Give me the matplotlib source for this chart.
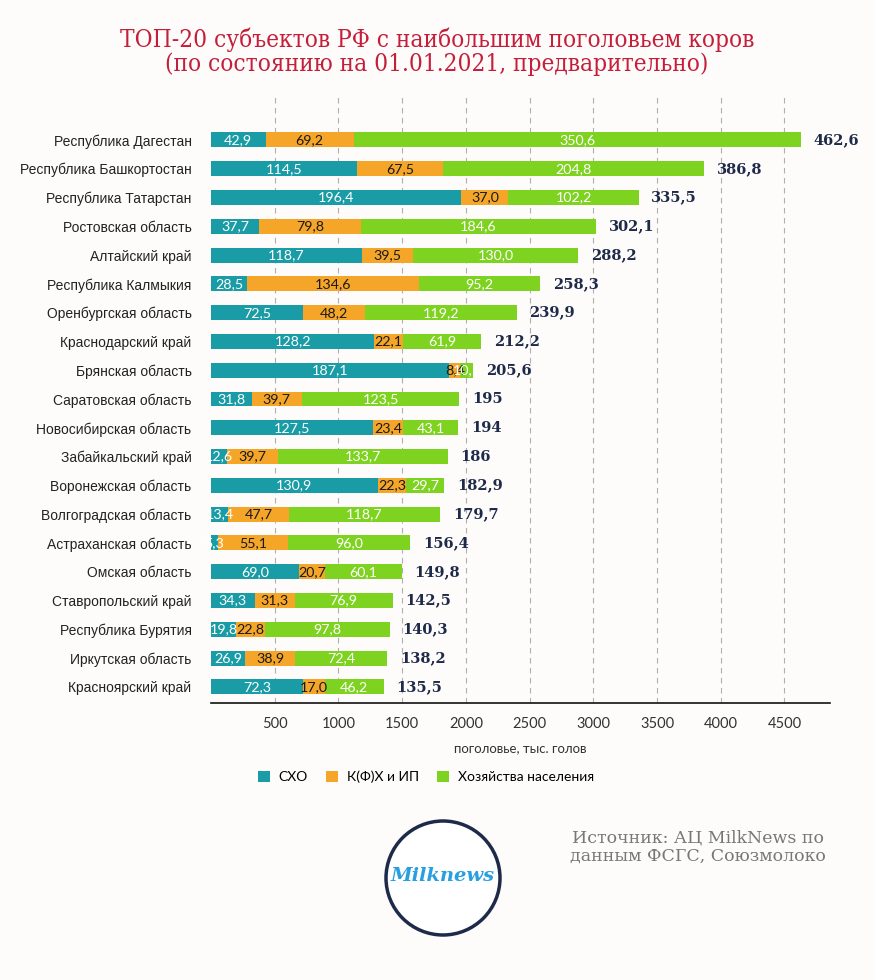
import numpy as np
import matplotlib
matplotlib.use('Agg')
from matplotlib import pyplot as plt
from matplotlib.patches import Patch, Ellipse

### data (thousand heads)
regions = ['Республика Дагестан', 'Республика Башкортостан', 'Республика Татарстан',
           'Ростовская область', 'Алтайский край', 'Республика Калмыкия',
           'Оренбургская область', 'Краснодарский край', 'Брянская область',
           'Саратовская область', 'Новосибирская область', 'Забайкальский край',
           'Воронежская область', 'Волгоградская область', 'Астраханская область',
           'Омская область', 'Ставропольский край', 'Республика Бурятия',
           'Иркутская область', 'Красноярский край']
skho = [42.9, 114.5, 196.4, 37.7, 118.7, 28.5, 72.5, 128.2, 187.1, 31.8,
        127.5, 12.6, 130.9, 13.4, 5.3, 69.0, 34.3, 19.8, 26.9, 72.3]
kfh = [69.2, 67.5, 37.0, 79.8, 39.5, 134.6, 48.2, 22.1, 8.4, 39.7,
       23.4, 39.7, 22.3, 47.7, 55.1, 20.7, 31.3, 22.8, 38.9, 17.0]
hn = [350.6, 204.8, 102.2, 184.6, 130.0, 95.2, 119.2, 61.9, 10.1, 123.5,
      43.1, 133.7, 29.7, 118.7, 96.0, 60.1, 76.9, 97.8, 72.4, 46.2]
totals = [462.6, 386.8, 335.5, 302.1, 288.2, 258.3, 239.9, 212.2, 205.6, 195,
          194, 186, 182.9, 179.7, 156.4, 149.8, 142.5, 140.3, 138.2, 135.5]
series_names = ['СХО', 'К(Ф)Х и ИП', 'Хозяйства населения']
xticks = [500, 1000, 1500, 2000, 2500, 3000, 3500, 4000, 4500]

# the original axis is drawn at 10x the values
SCALE = 10

c_teal = '#1a9ca6'
c_orange = '#f5a629'
c_green = '#7ed321'
bg = '#fdfcfb'

fig = plt.figure(figsize=(8.74, 9.8), dpi=100, facecolor=bg)
ax = fig.add_axes([0.2414, 0.2827, 0.7086, 0.6203], facecolor=bg)

y = np.arange(len(regions))
left = np.zeros(len(regions))
cols = [c_teal, c_orange, c_green]
txtcols = ['white', '#1a1a1a', 'white']
for vals, col, tcol in zip([skho, kfh, hn], cols, txtcols):
    v = np.array(vals) * SCALE
    ax.barh(y, v, left=left, height=0.52, color=col, lw=0, zorder=3)
    for yi, l, w, raw in zip(y, left, v, vals):
        ax.text(l + w / 2, yi, f'{raw:.1f}'.replace('.', ','), ha='center', va='center',
                color=tcol, fontsize=10.3, family='Lato', zorder=4)
    left = left + v

for yi, l, t in zip(y, left, totals):
    ax.text(l + 100, yi, f'{t:g}'.replace('.', ','), ha='left', va='center',
            color='#1f2a4a', fontsize=10.5, fontweight='bold', family='DejaVu Serif')

ax.set_yticks(y)
ax.set_yticklabels(regions, fontsize=10, color='#222222', family='Liberation Sans')
ax.set_ylim(19.56, -1.56)
ax.set_xlim(0, 4860)
ax.set_xticks(xticks)
ax.set_xticklabels([str(t) for t in xticks], fontsize=10.5, color='#333333', family='Lato')
ax.tick_params(axis='both', length=0)
ax.tick_params(axis='x', pad=10)
ax.tick_params(axis='y', pad=14)
ax.grid(axis='x', color='#b0b0b0', ls=(0, (5, 4)), lw=0.8, zorder=0)
for s in ['top', 'right', 'left']:
    ax.spines[s].set_visible(False)
ax.spines['bottom'].set_color('#111111')
ax.spines['bottom'].set_linewidth(1.2)
ax.set_xlabel('поголовье, тыс. голов', fontsize=9.5, color='#333333', family='Lato', labelpad=8)

handles = [Patch(facecolor=c, lw=0) for c in cols]
fig.legend(handles, series_names, loc='center', bbox_to_anchor=(0.487, 0.207), ncol=3,
           frameon=False, handlelength=0.9, handleheight=0.9, handletextpad=0.6,
           columnspacing=1.3, prop={'family': 'Lato', 'size': 10})

fig.text(0.5, 0.9592, 'ТОП-20 субъектов РФ с наибольшим поголовьем коров', ha='center', va='center',
         color='#c41e3a', fontsize=17.5, family='DejaVu Serif', fontstretch='condensed')
fig.text(0.5, 0.9347, '(по состоянию на 01.01.2021, предварительно)', ha='center', va='center',
         color='#c41e3a', fontsize=17.5, family='DejaVu Serif', fontstretch='condensed')

fig.text(0.799, 0.136, 'Источник: АЦ MilkNews по\nданным ФСГС, Союзмолоко', ha='center', va='center',
         color='#777777', fontsize=12.5, family='DejaVu Serif', linespacing=1.1)

# logo
fig.patches.append(Ellipse((443 / 874, 1 - 878 / 980), 114 / 874, 114 / 980, transform=fig.transFigure,
                           facecolor='white', edgecolor='#1e2a4a', lw=2.5))
fig.text(443 / 874, 1 - 876 / 980, 'Milknews', ha='center', va='center', color='#2a9fe0',
         fontsize=14, style='italic', fontweight='bold', family='DejaVu Serif')

plt.savefig('out.png', dpi=100, facecolor=bg)
